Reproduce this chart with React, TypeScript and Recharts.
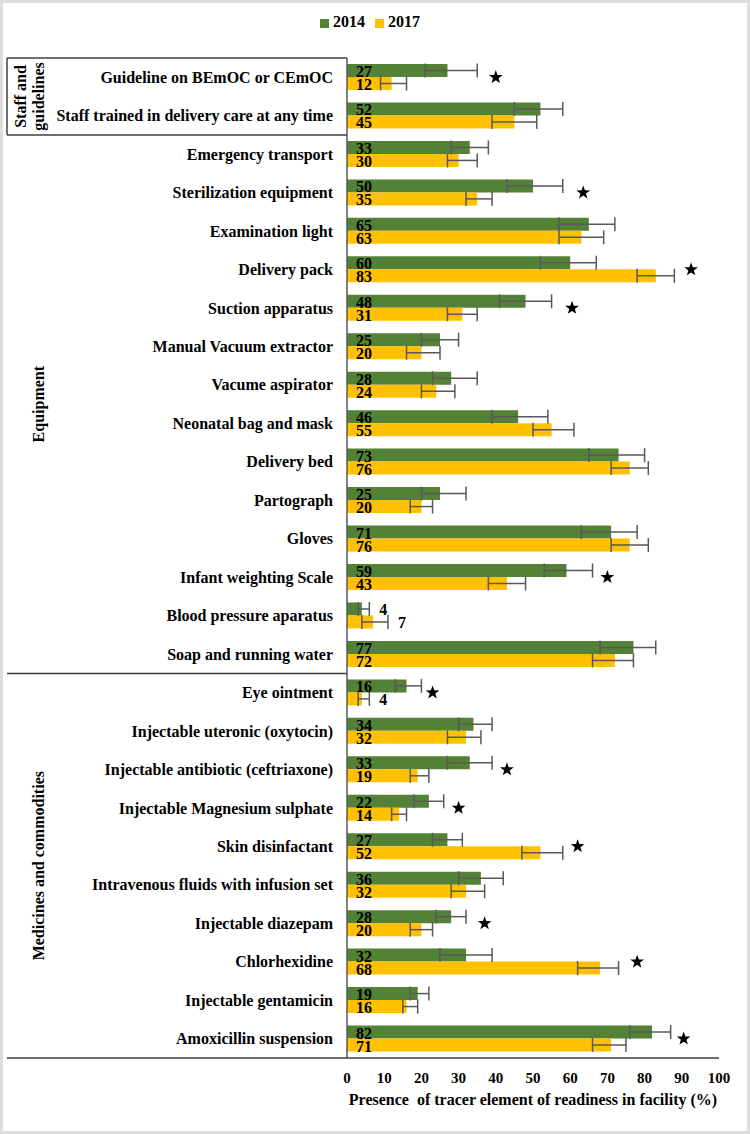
import React from 'react';
import {
  ComposedChart,
  Bar,
  XAxis,
  YAxis,
  Legend,
  ErrorBar,
  LabelList,
  Scatter,
} from 'recharts';

const categories = [
  'Guideline on BEmOC or CEmOC',
  'Staff trained in delivery care at any time',
  'Emergency transport',
  'Sterilization equipment',
  'Examination light',
  'Delivery pack',
  'Suction apparatus',
  'Manual Vacuum extractor',
  'Vacume aspirator',
  'Neonatal bag and mask',
  'Delivery bed',
  'Partograph',
  'Gloves',
  'Infant weighting Scale',
  'Blood pressure aparatus',
  'Soap and running water',
  'Eye ointment',
  'Injectable uteronic (oxytocin)',
  'Injectable antibiotic (ceftriaxone)',
  'Injectable Magnesium sulphate',
  'Skin disinfactant',
  'Intravenous fluids with infusion set',
  'Injectable diazepam',
  'Chlorhexidine',
  'Injectable gentamicin',
  'Amoxicillin suspension',
];

const values2014 = [27, 52, 33, 50, 65, 60, 48, 25, 28, 46, 73, 25, 71, 59, 4, 77, 16, 34, 33, 22, 27, 36, 28, 32, 19, 82];
const values2017 = [12, 45, 30, 35, 63, 83, 31, 20, 24, 55, 76, 20, 76, 43, 7, 72, 4, 32, 19, 14, 52, 32, 20, 68, 16, 71];

// error bars as [below, above]
const err2014Low = [6, 7, 5, 7, 8, 8, 7, 5, 5, 7, 8, 5, 8, 6, 1, 9, 3, 4, 6, 4, 4, 6, 4, 7, 2, 6];
const err2014High = [8, 6, 5, 8, 7, 7, 7, 5, 7, 8, 7, 7, 7, 7, 2, 6, 4, 5, 6, 4, 4, 6, 4, 7, 3, 5];
const err2017Low = [3, 6, 3, 3, 6, 5, 4, 4, 4, 5, 5, 3, 5, 5, 3, 6, 1, 5, 2, 2, 5, 4, 3, 6, 1, 5];
const err2017High = [4, 6, 5, 4, 6, 5, 4, 5, 5, 6, 5, 3, 5, 5, 4, 5, 2, 4, 3, 2, 6, 5, 3, 5, 3, 4];

// significant change markers (x position of the star)
const starPositions = [40, null, null, 63.5, null, 92.5, 60.5, null, null, null, null, null, null, 70, null, null, 23, null, 43, 30, 62, null, 37, 78, null, 90.5];

const xTicks = [0, 10, 20, 30, 40, 50, 60, 70, 80, 90, 100];

const groups = [
  { lines: ['Staff and', 'guidelines'], start: 0, count: 2 },
  { lines: ['Equipment'], start: 2, count: 14 },
  { lines: ['Medicines and commodities'], start: 16, count: 10 },
];

const FONT = '"Liberation Serif", "Times New Roman", serif';
const GREEN = '#538135';
const GOLD = '#FFC000';
const W = 750;
const H = 1134;
const MARGIN = { top: 58, right: 31, bottom: 16, left: 10 };
const Y_AXIS_W = 337;
const X_AXIS_H = 60;
const TICK_GAP = 14;
const BAND = (H - MARGIN.top - MARGIN.bottom - X_AXIS_H) / categories.length;
const LEFT_EDGE = 7;
const LINE = '#404040';

const data = categories.map((name, i) => ({
  name,
  y2014: values2014[i],
  y2017: values2017[i],
  e2014: [err2014Low[i], err2014High[i]],
  e2017: [err2017Low[i], err2017High[i]],
  star: starPositions[i],
}));

const CategoryTick = (props: any) => {
  const { x, y, payload } = props;
  const idx = categories.indexOf(payload.value);
  const axisX = x + TICK_GAP;
  const top = y - BAND / 2;
  const group = groups.find((g) => g.start === idx);
  return (
    <g>
      <text
        x={x}
        y={y}
        textAnchor='end'
        dominantBaseline='central'
        fontFamily={FONT}
        fontWeight='bold'
        fontSize={16}
        fill='#000'
      >
        {payload.value}
      </text>
      {group && (
        <g>
          <line x1={LEFT_EDGE} x2={axisX} y1={top} y2={top} stroke={LINE} strokeWidth={1.5} />
          {group.start === 0 && (
            <line
              x1={LEFT_EDGE}
              x2={LEFT_EDGE}
              y1={top}
              y2={top + group.count * BAND}
              stroke={LINE}
              strokeWidth={1.5}
            />
          )}
          {group.lines.map((ln, k) => {
            const cx = group.lines.length > 1 ? 21 + k * 18 : 39;
            const cy = top + (group.count * BAND) / 2;
            return (
              <text
                key={ln}
                x={cx}
                y={cy}
                transform={`rotate(-90, ${cx}, ${cy})`}
                textAnchor='middle'
                dominantBaseline='central'
                fontFamily={FONT}
                fontWeight='bold'
                fontSize={16}
                fill='#000'
              >
                {ln}
              </text>
            );
          })}
        </g>
      )}
      {idx === categories.length - 1 && (
        <line x1={LEFT_EDGE} x2={axisX} y1={y + BAND / 2} y2={y + BAND / 2} stroke={LINE} strokeWidth={1.5} />
      )}
    </g>
  );
};

const makeValueLabel = (high: number[]) => (props: any) => {
  const { x, y, width, height, value, index } = props;
  const small = value < 10;
  // small values sit to the right of the error bar
  const tx = small ? x + (width * (value + high[index])) / value + 10 : x + 9;
  return (
    <text
      x={tx}
      y={y + height / 2 + 1}
      dominantBaseline='central'
      fontFamily={FONT}
      fontWeight='bold'
      fontSize={16}
      fill='#000'
    >
      {value}
    </text>
  );
};

const StarShape = (props: any) => {
  const { cx, cy, payload } = props;
  if (payload == null || payload.star == null || cx == null || !isFinite(cx)) return <g />;
  const pts: string[] = [];
  for (let k = 0; k < 10; k++) {
    const r = k % 2 === 0 ? 7.2 : 2.9;
    const a = -Math.PI / 2 + (k * Math.PI) / 5;
    pts.push(`${cx + r * Math.cos(a)},${cy + r * Math.sin(a)}`);
  }
  return <polygon points={pts.join(' ')} fill='#000' />;
};

export default function App() {
  return (
    <div style={{ position: 'absolute', left: 0, top: 0, width: W, height: H, background: '#fff' }}>
      <ComposedChart
        width={W}
        height={H}
        data={data}
        layout='vertical'
        margin={MARGIN}
        barSize={13}
        barGap={0}
      >
        <XAxis
          type='number'
          domain={[0, 100]}
          ticks={xTicks}
          height={X_AXIS_H}
          tickLine={false}
          tickSize={0}
          tickMargin={14}
          axisLine={{ stroke: LINE, strokeWidth: 1.5 }}
          tick={{ fontFamily: FONT, fontWeight: 'bold', fontSize: 15, fill: '#000' }}
          label={{
            value: 'Presence\u00a0 of tracer element of readiness in facility (%)',
            position: 'insideBottom',
            offset: 13,
            style: { fontFamily: FONT, fontWeight: 'bold', fontSize: 16, fill: '#000' },
          }}
        />
        <YAxis
          type='category'
          dataKey='name'
          width={Y_AXIS_W}
          interval={0}
          tickLine={false}
          tickSize={0}
          tickMargin={TICK_GAP}
          axisLine={{ stroke: '#595959', strokeWidth: 1.5 }}
          tick={<CategoryTick />}
        />
        <Legend
          verticalAlign='middle'
          align='center'
          iconSize={9}
          wrapperStyle={{ top: 13, left: 0, width: W }}
          formatter={(v: string) => (
            <span style={{ color: '#000', fontFamily: FONT, fontWeight: 'bold', fontSize: 16 }}>{v}</span>
          )}
        />
        <Bar dataKey='y2014' name='2014' fill={GREEN} legendType='square' isAnimationActive={false}>
          <ErrorBar dataKey='e2014' direction='x' width={7} stroke='#595959' strokeWidth={1.5} />
          <LabelList dataKey='y2014' content={makeValueLabel(err2014High)} />
        </Bar>
        <Bar dataKey='y2017' name='2017' fill={GOLD} legendType='square' isAnimationActive={false}>
          <ErrorBar dataKey='e2017' direction='x' width={7} stroke='#595959' strokeWidth={1.5} />
          <LabelList dataKey='y2017' content={makeValueLabel(err2017High)} />
        </Bar>
        <Scatter dataKey='star' legendType='none' shape={<StarShape />} isAnimationActive={false} />
      </ComposedChart>
      <div
        style={{
          position: 'absolute',
          left: 0,
          top: 0,
          width: W,
          height: H,
          boxSizing: 'border-box',
          border: '3px solid #dddddd',
          pointerEvents: 'none',
        }}
      />
    </div>
  );
}
